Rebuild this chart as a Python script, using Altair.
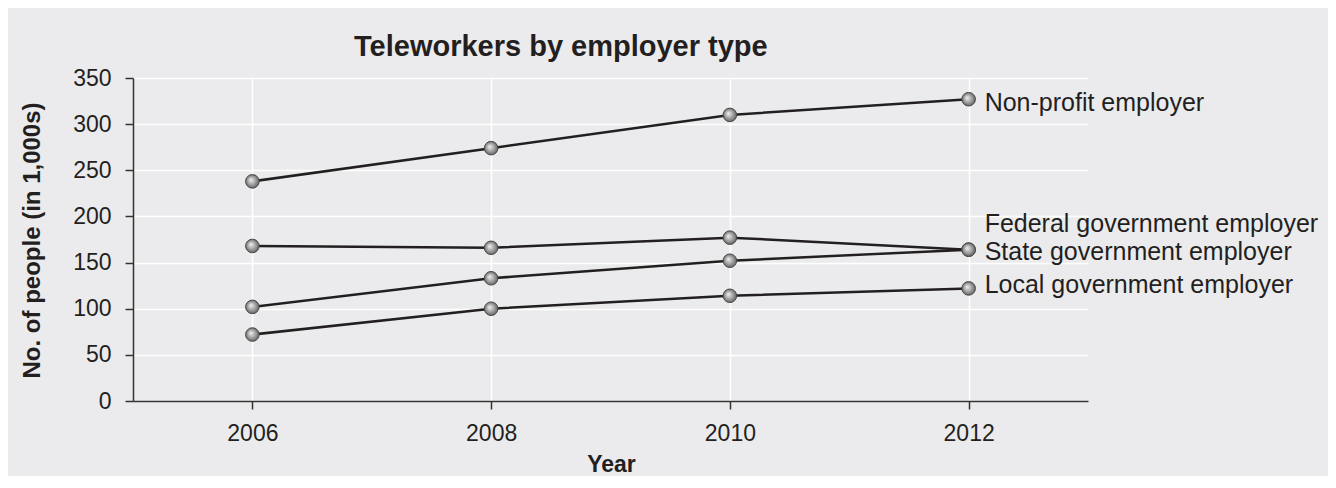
import altair as alt
import pandas as pd

years = [2006, 2008, 2010, 2012]
series_names = [
    "Non-profit employer",
    "Federal government employer",
    "State government employer",
    "Local government employer",
]
nonprofit = [238, 274, 310, 327]
federal = [168, 166, 177, 164]
state = [102, 133, 152, 164]
local = [72, 100, 114, 122]
y_ticks = [0, 50, 100, 150, 200, 250, 300, 350]
x_ticks = [2006, 2008, 2010, 2012]

values = [nonprofit, federal, state, local]
rows = []
for name, vals in zip(series_names, values):
    for yr, v in zip(years, vals):
        rows.append({"year": yr, "value": v, "series": name})
df = pd.DataFrame(rows)
last = df[df["year"] == years[-1]]

FONT = "Liberation Sans"
TXT = "#231F20"
BG = "#EBEBED"

x_enc = alt.X(
    "year:Q",
    scale=alt.Scale(domain=[2005, 2013], nice=False, zero=False),
    axis=alt.Axis(
        values=x_ticks, format="d", title="Year",
        grid=True, gridColor="white", gridWidth=1.5,
        domainColor="#333333", domainWidth=1.5,
        tickColor="#333333", tickSize=8, tickWidth=1.5,
        labelFont=FONT, labelFontSize=23, labelColor=TXT, labelPadding=13,
        titleFont=FONT, titleFontSize=23, titleFontWeight="bold", titleColor=TXT,
        titleX=478, titleY=70, titleBaseline="alphabetic", titleAlign="center",
    ),
)
y_enc = alt.Y(
    "value:Q",
    scale=alt.Scale(domain=[0, 350], nice=False),
    axis=alt.Axis(
        values=y_ticks, title="No. of people (in 1,000s)",
        grid=True, gridColor="white", gridWidth=1.5,
        domainColor="#333333", domainWidth=1.5,
        tickColor="#333333", tickSize=8, tickWidth=1.5,
        labelFont=FONT, labelFontSize=23, labelColor=TXT, labelPadding=14,
        titleFont=FONT, titleFontSize=24, titleFontWeight="bold", titleColor=TXT,
        titleX=-101, titleY=162, titleAngle=270, titleAlign="center",
        titleBaseline="middle",
    ),
)

lines = alt.Chart(df).mark_line(color="#231F20", strokeWidth=2.5).encode(
    x=x_enc, y=y_enc, detail="series:N"
)

sphere = alt.RadialGradient(
    gradient="radial",
    x1=0.38, y1=0.38, r1=0.0,
    x2=0.5, y2=0.5, r2=0.55,
    stops=[
        alt.GradientStop(offset=0, color="#F2F2F2"),
        alt.GradientStop(offset=0.55, color="#A0A0A0"),
        alt.GradientStop(offset=1, color="#585858"),
    ],
)
points = alt.Chart(df).mark_point(
    shape="circle", filled=True, fill=sphere, stroke="#4A4A4A",
    strokeWidth=1, size=185, opacity=1,
).encode(x="year:Q", y="value:Q")

label_dy = {
    "Non-profit employer": 12,
    "Federal government employer": -18,
    "State government employer": 10,
    "Local government employer": 5,
}
label_layers = []
for name in series_names:
    label_layers.append(
        alt.Chart(last[last["series"] == name]).mark_text(
            align="left", baseline="alphabetic", dx=16, dy=label_dy[name],
            font=FONT, fontSize=25, color=TXT,
        ).encode(x="year:Q", y="value:Q", text="series:N")
    )

chart = alt.layer(lines, points, *label_layers).properties(
    width=955,
    height=323,
    autosize=alt.AutoSizeParams(type="none"),
    padding={"left": 125, "top": 70, "right": 240, "bottom": 75},
    background=BG,
    title=alt.TitleParams(
        "Teleworkers by employer type",
        anchor="start", frame="group", dx=221, offset=-18,
        baseline="alphabetic",
        font=FONT, fontSize=29, fontWeight="bold", color=TXT,
    ),
).configure_view(stroke=None, fill=BG)

chart.save("out.html", embed_options={"renderer": "svg", "actions": False})
